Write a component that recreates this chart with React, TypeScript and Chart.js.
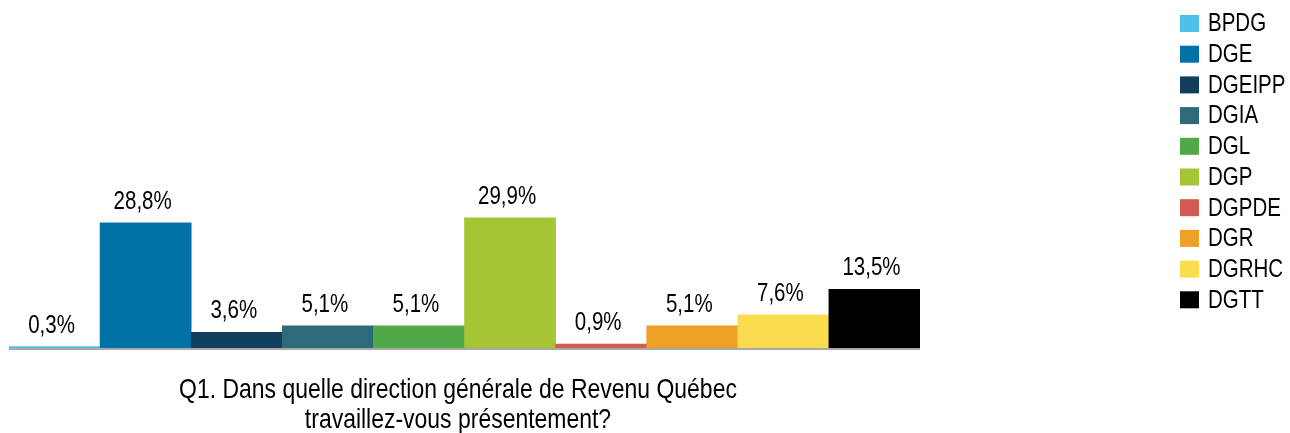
import React, { useEffect, useRef } from "react";
import { Chart, registerables } from "chart.js";

Chart.register(...registerables);

const categories = ["BPDG", "DGE", "DGEIPP", "DGIA", "DGL", "DGP", "DGPDE", "DGR", "DGRHC", "DGTT"];
const values = [0.3, 28.8, 3.6, 5.1, 5.1, 29.9, 0.9, 5.1, 7.6, 13.5];
const colors = ["#4FC0EA", "#0271A8", "#103F5E", "#2D6B7B", "#50A946", "#A5C534", "#CF5B52", "#EEA126", "#FADC4F", "#000000"];
const titleLines = ["Q1. Dans quelle direction générale de Revenu Québec", "travaillez-vous présentement?"];

const FONT = '"Liberation Sans", Arial, sans-serif';
const NARROW = 0.82;

const fmt = (v: number) => v.toFixed(1).replace(".", ",") + "%";

function narrowText(ctx: CanvasRenderingContext2D, text: string, x: number, y: number) {
  ctx.save();
  ctx.translate(x, y);
  ctx.scale(NARROW, 1);
  ctx.fillText(text, 0, 0);
  ctx.restore();
}

const decorPlugin = {
  id: "decor",
  afterDatasetsDraw(chart: any) {
    const ctx = chart.ctx as CanvasRenderingContext2D;
    const area = chart.chartArea;
    ctx.save();
    // axis line
    ctx.strokeStyle = "#A8A8A8";
    ctx.lineWidth = 2;
    ctx.beginPath();
    ctx.moveTo(area.left, area.bottom + 1);
    ctx.lineTo(area.right, area.bottom + 1);
    ctx.stroke();
    // value labels
    const meta = chart.getDatasetMeta(0);
    ctx.fillStyle = "#000";
    ctx.font = `25px ${FONT}`;
    ctx.textAlign = "center";
    ctx.textBaseline = "alphabetic";
    meta.data.forEach((bar: any, i: number) => {
      narrowText(ctx, fmt(values[i]), bar.x - 3, bar.y - 14);
    });
    // title
    ctx.font = `28px ${FONT}`;
    titleLines.forEach((line, i) => {
      narrowText(ctx, line, 458, 398 + i * 30);
    });
    // legend
    ctx.textAlign = "left";
    ctx.textBaseline = "middle";
    ctx.font = `25px ${FONT}`;
    categories.forEach((c, i) => {
      const cy = 23.5 + i * 30.7;
      ctx.fillStyle = colors[i];
      ctx.fillRect(1180, cy - 8.5, 19, 17);
      ctx.fillStyle = "#000";
      narrowText(ctx, c, 1208, cy + 1);
    });
    ctx.restore();
  },
};

export default function App() {
  const ref = useRef<HTMLCanvasElement | null>(null);
  useEffect(() => {
    if (!ref.current) return;
    const chart = new Chart(ref.current, {
      type: "bar",
      data: {
        labels: categories,
        datasets: [
          {
            data: values,
            backgroundColor: colors,
            borderWidth: 0,
            categoryPercentage: 1,
            barPercentage: 1,
          },
        ],
      },
      options: {
        animation: false,
        responsive: false,
        devicePixelRatio: 1,
        layout: { padding: { left: 9, right: 370, top: 174, bottom: 85 } },
        plugins: { legend: { display: false }, tooltip: { enabled: false }, title: { display: false } },
        scales: {
          x: { display: false, offset: true },
          y: { display: false, min: 0, max: 40 },
        },
      },
      plugins: [decorPlugin],
    });
    return () => chart.destroy();
  }, []);
  return (
    <div style={{ position: "absolute", left: 0, top: 0, width: 1290, height: 433, background: "#fff" }}>
      <canvas ref={ref} width={1290} height={433} style={{ width: 1290, height: 433 }} />
    </div>
  );
}
